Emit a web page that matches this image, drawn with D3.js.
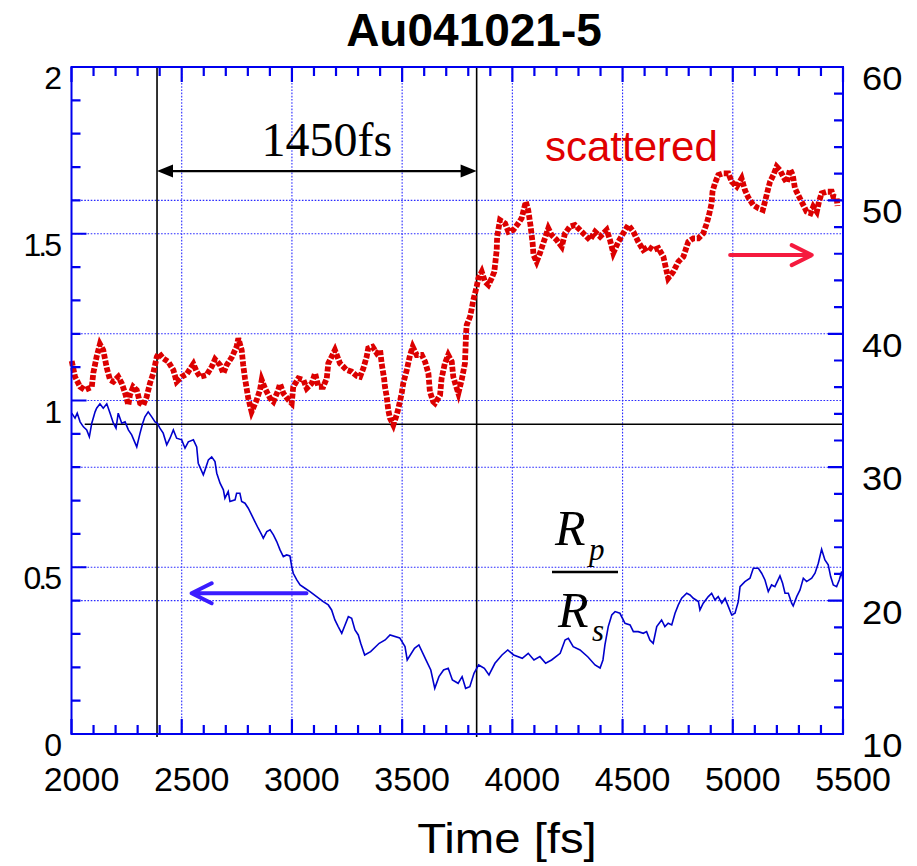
<!DOCTYPE html>
<html>
<head>
<meta charset="utf-8">
<script src="https://cdn.jsdelivr.net/npm/d3@7"></script>
<style>
  body { margin: 0; background: #fff; }
  svg { display: block; }
</style>
</head>
<body>
<svg id="chart" width="917" height="866" xmlns="http://www.w3.org/2000/svg"></svg>
<script>
// Scattered intensity (right axis)
const redTime = [2001,2016,2039,2061,2092,2099,2114,2129,2144,2160,2175,2190,2212,2228,2243,2258,2265,2280,2296,2311,2326,2341,2356,2371,2387,2397,2416,2439,2462,2477,2500,2523,2553,2568,2583,2613,2636,2651,2674,2689,2704,2727,2749,2757,2772,2779,2787,2802,2817,2840,2855,2863,2878,2901,2916,2938,2946,2961,2984,2999,3006,3029,3052,3067,3090,3105,3120,3142,3158,3165,3180,3195,3218,3248,3271,3294,3309,3324,3339,3346,3366,3385,3400,3407,3418,3422,3430,3437,3445,3460,3475,3483,3498,3505,3521,3536,3548,3566,3589,3604,3619,3626,3641,3649,3672,3679,3694,3709,3725,3732,3743,3755,3770,3785,3790,3793,3808,3816,3823,3838,3846,3861,3876,3891,3906,3918,3924,3929,3931,3944,3967,3982,4004,4027,4042,4061,4072,4083,4092,4096,4110,4125,4140,4163,4178,4201,4224,4239,4261,4284,4307,4329,4352,4375,4398,4428,4443,4458,4481,4503,4526,4549,4571,4594,4617,4639,4662,4685,4707,4730,4753,4776,4798,4821,4844,4866,4882,4892,4904,4908,4919,4934,4957,4980,4995,5018,5040,5055,5070,5093,5116,5136,5146,5161,5169,5184,5199,5214,5229,5245,5260,5272,5282,5297,5320,5335,5353,5365,5381,5391,5403,5426,5449,5456,5471,5475];
const redValue = [37.96,36.78,36.03,35.79,36.01,37.06,38.28,39.23,38.78,37.44,36.54,36.41,36.78,36.29,35.56,34.66,35.41,36.03,35.79,34.81,34.66,35.28,36.29,37.04,38.28,38.54,38.16,37.91,37.29,36.41,36.78,36.99,37.74,37.16,36.78,36.91,37.53,38.09,37.66,37.04,37.66,38.24,39.03,39.66,38.78,37.66,36.66,35.16,34.16,35.04,35.79,36.54,35.91,35.16,34.91,35.79,36.24,35.54,35.04,34.79,36.03,36.66,36.54,35.91,36.29,37.04,36.03,36.03,36.66,37.79,38.28,38.78,37.79,37.29,37.16,36.84,36.78,37.41,38.28,38.91,39.03,38.54,38.78,37.79,36.66,36.03,35.28,34.29,33.67,33.16,33.91,34.41,35.54,36.29,37.29,38.41,39.03,38.41,38.41,37.91,37.04,35.66,34.91,34.79,35.41,36.66,37.79,38.41,37.91,36.78,36.16,35.54,36.54,37.79,40.04,40.66,41.28,41.91,42.53,43.53,44.16,44.65,43.90,43.66,44.16,44.65,45.53,46.28,47.28,48.53,48.28,47.65,47.78,48.28,48.66,49.90,49.28,48.03,46.78,45.91,45.40,46.03,46.78,47.91,47.41,47.03,46.53,47.53,48.03,48.15,47.78,47.41,47.03,47.65,47.28,47.78,47.03,46.06,46.90,47.53,48.15,47.65,46.90,46.28,46.53,46.28,46.43,45.78,44.16,44.65,45.40,45.78,46.90,47.16,47.16,47.53,48.28,48.90,49.78,50.65,51.28,51.90,52.03,52.03,51.40,51.03,51.65,50.78,50.23,49.65,49.41,49.28,49.90,50.91,51.40,51.90,52.53,52.27,51.78,51.33,52.33,51.90,50.91,50.40,49.65,49.15,49.03,49.53,49.15,49.90,50.53,50.65,50.65,50.28,50.23,49.58];

// Reflectivity ratio Rp/Rs (left axis)
const blueTime = [2001,2016,2026,2039,2054,2069,2081,2092,2107,2114,2129,2144,2160,2175,2190,2202,2212,2228,2243,2258,2273,2296,2311,2323,2333,2348,2364,2379,2389,2401,2416,2432,2447,2462,2477,2500,2515,2530,2553,2568,2575,2598,2606,2621,2636,2651,2659,2674,2689,2696,2711,2719,2742,2749,2764,2772,2787,2802,2817,2832,2847,2863,2870,2886,2901,2916,2931,2946,2961,2976,2991,2999,3006,3022,3037,3059,3082,3112,3142,3165,3180,3195,3210,3226,3241,3256,3271,3286,3301,3312,3330,3357,3396,3423,3445,3489,3513,3523,3556,3576,3608,3630,3648,3667,3688,3709,3728,3754,3772,3788,3807,3826,3847,3873,3894,3921,3953,3979,4006,4045,4072,4098,4125,4151,4178,4217,4239,4254,4276,4307,4343,4375,4398,4411,4420,4435,4451,4466,4488,4511,4534,4549,4571,4594,4609,4624,4639,4655,4677,4692,4707,4723,4738,4753,4768,4791,4806,4821,4844,4851,4866,4889,4904,4919,4934,4950,4965,4980,4995,5010,5025,5033,5055,5078,5093,5116,5131,5146,5161,5176,5191,5214,5226,5237,5252,5267,5274,5290,5305,5320,5335,5358,5373,5388,5403,5418,5433,5444,5456,5471,5483,5494,5499];
const blueValue = [0.962,0.947,0.962,0.936,0.921,0.912,0.891,0.932,0.966,0.977,0.990,0.977,0.990,0.962,0.932,0.917,0.962,0.932,0.936,0.912,0.897,0.861,0.902,0.932,0.951,0.966,0.951,0.936,0.932,0.917,0.902,0.867,0.887,0.912,0.887,0.882,0.857,0.876,0.882,0.861,0.812,0.777,0.792,0.822,0.831,0.817,0.782,0.752,0.732,0.707,0.727,0.697,0.702,0.722,0.722,0.697,0.692,0.677,0.657,0.637,0.617,0.597,0.587,0.607,0.612,0.597,0.577,0.552,0.532,0.537,0.534,0.502,0.482,0.462,0.447,0.437,0.427,0.412,0.397,0.387,0.372,0.342,0.322,0.302,0.327,0.352,0.347,0.312,0.297,0.272,0.237,0.247,0.272,0.282,0.297,0.288,0.262,0.222,0.257,0.267,0.222,0.192,0.137,0.172,0.192,0.197,0.162,0.152,0.172,0.137,0.142,0.182,0.207,0.197,0.177,0.212,0.237,0.252,0.237,0.227,0.242,0.222,0.232,0.212,0.222,0.242,0.282,0.287,0.262,0.252,0.231,0.207,0.198,0.222,0.267,0.322,0.357,0.367,0.362,0.332,0.327,0.307,0.307,0.302,0.307,0.282,0.272,0.322,0.342,0.322,0.332,0.327,0.362,0.387,0.407,0.422,0.417,0.407,0.397,0.372,0.392,0.412,0.422,0.402,0.412,0.392,0.407,0.382,0.357,0.362,0.397,0.442,0.457,0.467,0.497,0.497,0.482,0.462,0.427,0.447,0.442,0.474,0.452,0.422,0.422,0.392,0.384,0.412,0.432,0.467,0.457,0.467,0.482,0.512,0.554,0.522,0.507,0.472,0.447,0.442,0.462,0.487,0.462];

// Axis ticks and labels
const xTickValues = [2000,2500,3000,3500,4000,4500,5000,5500];
const leftTickValues = [0,0.5,1,1.5,2];
const leftTickLabels = ["0","0.5","1","1.5","2"];
const rightTickValues = [10,20,30,40,50,60];

// Annotations
const markerTimes = [2388, 3838];   // 1450 fs apart
const spanLevel = 1.688;            // height of the double arrow (left axis)
const thresholdLevel = 0.929;       // horizontal reference level (left axis)
const thresholdStart = 2060;

const svg = d3.select("#chart");
const W = 917, H = 866;
const plotLeft = 71.5, plotRight = 843, plotTop = 67, plotBottom = 734;

const x = d3.scaleLinear().domain([2000, 5500]).range([plotLeft, plotRight]);
const yL = d3.scaleLinear().domain([0, 2]).range([plotBottom, plotTop]);
const yR = d3.scaleLinear().domain([10, 60]).range([plotBottom, plotTop]);

const frameBlue = "#0000ee";
const gridBlue = "#2a2aff";

svg.append("rect").attr("width", W).attr("height", H).attr("fill", "#fff");

// dotted grid
const grid = svg.append("g").attr("stroke", gridBlue).attr("stroke-width", 1.1)
  .attr("stroke-dasharray", "1.6 1.6").attr("fill", "none");
[2500,3000,3500,4000,4500,5000].forEach(t => {
  grid.append("line").attr("x1", x(t)).attr("x2", x(t)).attr("y1", plotTop).attr("y2", plotBottom);
});
[0.5,1,1.5].forEach(v => {
  grid.append("line").attr("x1", plotLeft).attr("x2", plotRight).attr("y1", yL(v)).attr("y2", yL(v));
});
[20,30,40,50].forEach(v => {
  grid.append("line").attr("x1", plotLeft).attr("x2", plotRight).attr("y1", yR(v)).attr("y2", yR(v));
});

// reference lines
const refs = svg.append("g").attr("stroke", "#000").attr("stroke-width", 1.6);
markerTimes.forEach(t => {
  refs.append("line").attr("x1", x(t)).attr("x2", x(t)).attr("y1", plotTop).attr("y2", plotBottom + 3);
});
refs.append("line").attr("x1", x(thresholdStart)).attr("x2", plotRight)
  .attr("y1", yL(thresholdLevel)).attr("y2", yL(thresholdLevel));

// scattered signal
const redData = redTime.map((t, i) => [t, redValue[i]]);
svg.append("path").datum(redData)
  .attr("fill", "none").attr("stroke", "#dc0000").attr("stroke-width", 5.8)
  .attr("stroke-dasharray", "5 1.8")
  .attr("d", d3.line().x(d => x(d[0])).y(d => yR(d[1])));

// Rp/Rs ratio
const blueData = blueTime.map((t, i) => [t, blueValue[i]]);
svg.append("path").datum(blueData)
  .attr("fill", "none").attr("stroke", "#0000cc").attr("stroke-width", 1.6)
  .attr("d", d3.line().x(d => x(d[0])).y(d => yL(d[1])));

// frame
svg.append("rect").attr("x", plotLeft).attr("y", plotTop)
  .attr("width", plotRight - plotLeft).attr("height", plotBottom - plotTop)
  .attr("fill", "none").attr("stroke", frameBlue).attr("stroke-width", 2);

// inward tick marks on all four sides (short minor, long major)
function stepValues(domain, step) {
  const n = Math.round((domain[1] - domain[0]) / step);
  return d3.range(n + 1).map(i => +(domain[0] + i * step).toFixed(6));
}
function isMajor(v, major) {
  return Math.abs(v / major - Math.round(v / major)) < 1e-6;
}
let tickPath = "";
stepValues(x.domain(), 100).forEach(t => {
  const len = isMajor(t, 500) ? 15 : 9;
  const px = x(t);
  tickPath += `M${px},${plotBottom}V${plotBottom - len}M${px},${plotTop}V${plotTop + len}`;
});
stepValues(yL.domain(), 0.1).forEach(v => {
  const len = isMajor(v, 0.5) ? 15 : 9;
  tickPath += `M${plotLeft},${yL(v)}H${plotLeft + len}`;
});
stepValues(yR.domain(), 2).forEach(v => {
  const len = isMajor(v, 10) ? 15 : 9;
  tickPath += `M${plotRight},${yR(v)}H${plotRight - len}`;
});
svg.append("path").attr("d", tickPath)
  .attr("fill", "none").attr("stroke", frameBlue).attr("stroke-width", 2.2);

// double arrow spanning the two markers
const ay = yL(spanLevel);
const ax1 = x(markerTimes[0]), ax2 = x(markerTimes[1]);
svg.append("line").attr("x1", ax1 + 10).attr("x2", ax2 - 10).attr("y1", ay).attr("y2", ay)
  .attr("stroke", "#000").attr("stroke-width", 2.2);
svg.append("path").attr("fill", "#000")
  .attr("d", `M${ax1},${ay} L${ax1 + 16},${ay - 6.5} L${ax1 + 16},${ay + 6.5} Z`);
svg.append("path").attr("fill", "#000")
  .attr("d", `M${ax2},${ay} L${ax2 - 16},${ay - 6.5} L${ax2 - 16},${ay + 6.5} Z`);
svg.append("text").attr("x", (ax1 + ax2) / 2 + 10).attr("y", ay - 15)
  .attr("text-anchor", "middle")
  .attr("font-family", "'Liberation Serif','Times New Roman',serif")
  .attr("font-size", 48).attr("fill", "#000").text("1450fs");

// series labels and direction arrows
const sans = "'Liberation Sans',Arial,sans-serif";
svg.append("text").attr("x", 545).attr("y", 161)
  .attr("font-family", sans)
  .attr("font-size", 42).attr("fill", "#e00000").text("scattered");

const rArrowY = yR(45.9);
const rTail = x(4988), rTip = x(5358);
svg.append("path").attr("fill", "none").attr("stroke", "#f51a3e").attr("stroke-width", 4)
  .attr("stroke-linecap", "round").attr("stroke-linejoin", "round")
  .attr("d", `M${rTail},${rArrowY} L${rTip},${rArrowY} M${rTip - 20},${rArrowY - 10} L${rTip},${rArrowY} L${rTip - 20},${rArrowY + 10}`);

const bArrowY = yL(0.422);
const bTail = x(3066), bTip = x(2545);
svg.append("path").attr("fill", "none").attr("stroke", "#3a1cff").attr("stroke-width", 4)
  .attr("stroke-linecap", "round").attr("stroke-linejoin", "round")
  .attr("d", `M${bTail},${bArrowY} L${bTip},${bArrowY} M${bTip + 20},${bArrowY - 10} L${bTip},${bArrowY} L${bTip + 20},${bArrowY + 10}`);

// Rp / Rs fraction
const serif = "'Liberation Serif','Times New Roman',serif";
const frac = svg.append("g").attr("font-family", serif).attr("font-style", "italic").attr("fill", "#000");
frac.append("text").attr("x", 555).attr("y", 545).attr("font-size", 50).text("R");
frac.append("text").attr("x", 589).attr("y", 560).attr("font-size", 31).text("p");
svg.append("line").attr("x1", 552).attr("x2", 618).attr("y1", 572).attr("y2", 572)
  .attr("stroke", "#000").attr("stroke-width", 2.5);
frac.append("text").attr("x", 558).attr("y", 627).attr("font-size", 50).text("R");
frac.append("text").attr("x", 592).attr("y", 641).attr("font-size", 31).text("s");

// tick labels
const lab = svg.append("g").attr("font-family", sans).attr("fill", "#000");
xTickValues.forEach(t => {
  lab.append("text").attr("x", x(t) + 10).attr("y", 791)
    .attr("text-anchor", "middle").attr("font-size", 34).text(t);
});
leftTickValues.forEach((v, i) => {
  lab.append("text").attr("x", 59).attr("y", yL(v) + 22)
    .attr("text-anchor", "end").attr("font-size", 32).attr("letter-spacing", "-3px")
    .text(leftTickLabels[i]);
});
rightTickValues.forEach(v => {
  lab.append("text").attr("transform", `translate(862,${yR(v) + 23}) scale(1.1,1)`)
    .attr("text-anchor", "start").attr("font-size", 33).text(v);
});

// axis title and chart title
svg.append("text").attr("transform", `translate(507,853) scale(1.1,1)`)
  .attr("text-anchor", "middle").attr("font-family", sans).attr("font-size", 43)
  .attr("fill", "#000").text("Time [fs]");
svg.append("text").attr("x", 474).attr("y", 46).attr("text-anchor", "middle")
  .attr("font-family", sans).attr("font-weight", "bold").attr("font-size", 46)
  .attr("fill", "#000").text("Au041021-5");
</script>
</body>
</html>
